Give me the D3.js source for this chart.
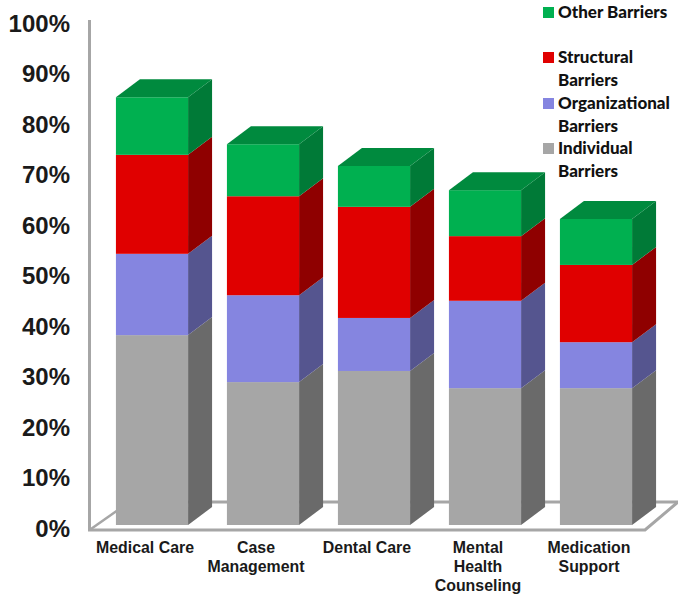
<!DOCTYPE html>
<html>
<head>
<meta charset="utf-8">
<script src="https://cdn.jsdelivr.net/npm/d3@7"></script>
<style>
  html, body { margin: 0; padding: 0; background: #fff; }
  svg { display: block; }
</style>
</head>
<body>
<svg id="chart" width="678" height="594"></svg>
<script>
const categories = ["Medical Care", "Case Management", "Dental Care", "Mental Health Counseling", "Medication Support"];
const categoryLines = [["Medical Care"], ["Case", "Management"], ["Dental Care"], ["Mental", "Health", "Counseling"], ["Medication", "Support"]];
const seriesNames = ["Individual Barriers", "Organizational Barriers", "Structural Barriers", "Other Barriers"];
const individual = [37.6, 28.3, 30.5, 27.1, 27.1];
const organizational = [16.1, 17.2, 10.5, 17.3, 9.1];
const structural = [19.6, 19.6, 22.0, 12.8, 15.3];
const other = [11.4, 10.3, 8.1, 9.1, 9.1];
const yTicks = [0, 10, 20, 30, 40, 50, 60, 70, 80, 90, 100];

const frontColors = ["#a6a6a6", "#8585e0", "#e00000", "#00b050"];
const sideColors = ["#6a6a6a", "#55558f", "#8f0000", "#007a37"];
const topColor = "#008a3e";
const wallColor = "#a6a6a6";

// Oblique projection offsets for the bar depth
const depthX = 24, depthY = 18;

const svg = d3.select("#chart");
const y = d3.scaleLinear().domain([0, 100]).range([525, 20]);
const x = d3.scaleBand().domain(categories).range([96.5, 651.5]).paddingInner(0.35).paddingOuter(0.175);

const rows = categories.map((c, i) => ({
  category: c,
  [seriesNames[0]]: individual[i],
  [seriesNames[1]]: organizational[i],
  [seriesNames[2]]: structural[i],
  [seriesNames[3]]: other[i]
}));
const stacked = d3.stack().keys(seriesNames)(rows);

// Floor of the 3D plot and the vertical wall edge
const floorFrontY = y(0) + 5, floorBackY = y(0) - 23;
const wall = svg.append("g").attr("fill", "none").attr("stroke", wallColor).attr("stroke-width", 3);
wall.append("path").attr("d", `M89.5,${y(100)} V${floorFrontY}`);
wall.append("path").attr("d", `M89.5,${floorFrontY} L118,${floorFrontY - 20}`).attr("stroke-width", 2.5);
wall.append("path").attr("d", `M118,${floorBackY} H678`);
wall.append("path").attr("d", `M88,${floorFrontY} H645 L678,${floorBackY}`);

// Stacked prisms: side face, then front face, with a lid on the top segment
const bars = svg.append("g");
stacked.forEach((layer, s) => {
  const g = bars.append("g").attr("class", "series");
  layer.forEach((d, i) => {
    const cat = categories[i];
    const x0 = x(cat), x1 = x0 + x.bandwidth();
    const yTop = y(d[1]), yBottom = y(d[0]);
    g.append("path")
      .attr("fill", sideColors[s])
      .attr("d", `M${x1},${yTop} L${x1 + depthX},${yTop - depthY} V${yBottom - depthY} L${x1},${yBottom} Z`);
    g.append("rect")
      .attr("x", x0).attr("y", yTop)
      .attr("width", x.bandwidth()).attr("height", yBottom - yTop)
      .attr("fill", frontColors[s]);
    if (s === stacked.length - 1) {
      g.append("path")
        .attr("fill", topColor)
        .attr("d", `M${x0},${yTop} L${x0 + depthX},${yTop - depthY} H${x1 + depthX} L${x1},${yTop} Z`);
    }
  });
});

// Value axis
const yAxis = d3.axisLeft(y).tickValues(yTicks).tickSize(0).tickPadding(0).tickFormat(d => d + "%");
const yAxisG = svg.append("g").attr("transform", "translate(70,3.5)").call(yAxis);
yAxisG.select(".domain").remove();
yAxisG.selectAll("text")
  .attr("font-family", "'Liberation Sans', Arial, sans-serif")
  .attr("font-size", 24).attr("font-weight", 700).attr("fill", "#1a1a1a");

// Category labels, wrapped onto fixed lines and centred under the bar fronts
const labels = svg.append("g")
  .attr("font-family", "'Liberation Sans', Arial, sans-serif")
  .attr("font-size", 15.9).attr("font-weight", 700).attr("fill", "#1a1a1a")
  .attr("text-anchor", "middle");
categories.forEach((c, i) => {
  const t = labels.append("text").attr("y", 553);
  categoryLines[i].forEach((line, k) => {
    t.append("tspan")
      .attr("x", x(c) + x.bandwidth() / 2 - 7)
      .attr("dy", k ? 19 : 0).text(line);
  });
});

// Legend, listed top to bottom from the last series to the first
const legendRows = [
  { series: 3, y: 12.5, lines: ["Other Barriers"] },
  { series: 2, y: 57.5, lines: ["Structural", "Barriers"] },
  { series: 1, y: 103.5, lines: ["Organizational", "Barriers"] },
  { series: 0, y: 148.5, lines: ["Individual", "Barriers"] }
];
const legend = svg.append("g")
  .attr("font-family", "Lato, sans-serif")
  .attr("font-size", 17).attr("font-weight", 900).attr("fill", "#111");
legendRows.forEach(r => {
  legend.append("rect").attr("x", 543).attr("y", r.y - 5.5).attr("width", 11).attr("height", 11)
    .attr("fill", frontColors[r.series]);
  r.lines.forEach((line, k) => {
    legend.append("text").attr("x", 558).attr("y", r.y + 5.5 + k * 22.5).text(line);
  });
});
</script>
</body>
</html>
